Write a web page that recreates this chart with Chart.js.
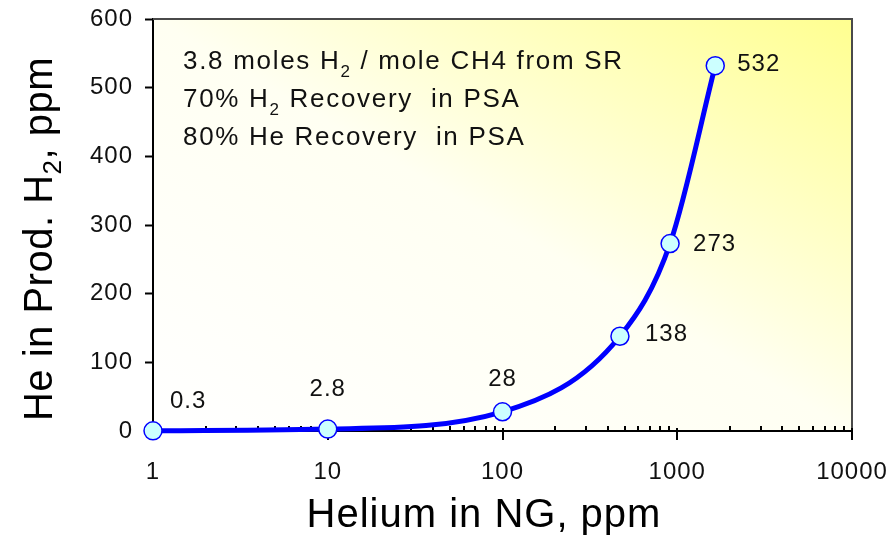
<!DOCTYPE html>
<html><head><meta charset="utf-8">
<script src="https://cdn.jsdelivr.net/npm/chart.js@4"></script>
<style>html,body{margin:0;padding:0;background:#fff}canvas{display:block}</style>
</head><body>
<canvas id="c" width="896" height="536"></canvas>
<script>
// ---- data ----
const heliumNG = [1, 10, 100, 470, 910, 1650];
const heInProduct = [0.3, 2.8, 28, 138, 273, 532];
const pointLabels = ['0.3', '2.8', '28', '138', '273', '532'];
const xTickValues = [1, 10, 100, 1000, 10000];
const yTickStep = 100;
const noteLines = [
  [{t: '3.8 moles H'}, {t: '2', sub: true}, {t: ' / mole CH4 from SR'}],
  [{t: '70% H'}, {t: '2', sub: true}, {t: ' Recovery  in PSA'}],
  [{t: '80% He Recovery  in PSA'}]
];
const xTitle = [{t: 'Helium in NG, ppm'}];
const yTitle = [{t: 'He in Prod. H'}, {t: '2', sub: true}, {t: ', ppm'}];

// ---- styles ----
const FONT = '"Liberation Sans", Arial, sans-serif';
const labelPlacement = [[17, -29, 'left'], [0, -40, 'center'], [0, -32, 'center'], [25, -2, 'left'], [23, 1, 'left'], [22, -1, 'left']];

function segWidth(ctx, segs, size, subSize) {
  let w = 0;
  segs.forEach(s => { ctx.font = (s.sub ? subSize : size) + 'px ' + FONT; w += ctx.measureText(s.t).width; });
  return w;
}
function drawSegs(ctx, segs, x, y, size, subSize, subDy) {
  segs.forEach(s => {
    ctx.font = (s.sub ? subSize : size) + 'px ' + FONT;
    ctx.fillText(s.t, x, s.sub ? y + subDy : y);
    x += ctx.measureText(s.t).width;
  });
}

const decor = {
  id: 'decor',
  beforeUpdate(chart) { chart.ctx.letterSpacing = '1px'; },
  beforeDraw(chart) {
    const {ctx, chartArea: a} = chart;
    ctx.letterSpacing = '1px';
    const w = a.right - a.left, h = a.bottom - a.top;
    const L = Math.hypot(w, h);
    const len = 2 * w * h / L;
    const g = ctx.createLinearGradient(a.left, a.bottom, a.left + h / L * len, a.bottom - w / L * len);
    g.addColorStop(0, '#ffffff');
    g.addColorStop(0.5, '#fffff2');
    g.addColorStop(1, '#ffff90');
    ctx.save();
    ctx.fillStyle = g;
    ctx.fillRect(a.left, a.top, w, h);
    ctx.restore();
  },
  beforeDatasetsDraw(chart) {
    const {ctx, chartArea: a, scales} = chart;
    const xs = scales.x;
    ctx.save();
    ctx.strokeStyle = '#4a4a4a';
    ctx.lineWidth = 2;
    ctx.beginPath();
    ctx.moveTo(a.left, a.top);
    ctx.lineTo(a.right, a.top);
    ctx.lineTo(a.right, a.bottom);
    ctx.stroke();
    ctx.strokeStyle = '#000';
    for (let e = 0; e <= 4; e++) {
      const base = Math.pow(10, e);
      const px = Math.round(xs.getPixelForValue(base));
      ctx.lineWidth = 2;
      ctx.beginPath(); ctx.moveTo(px, a.bottom - 3); ctx.lineTo(px, a.bottom + 9); ctx.stroke();
      if (e < 4) {
        for (let k = 2; k <= 9; k++) {
          const mx = Math.round(xs.getPixelForValue(k * base));
          ctx.beginPath(); ctx.moveTo(mx, a.bottom - 5); ctx.lineTo(mx, a.bottom); ctx.stroke();
        }
      }
    }
    ctx.restore();
  },
  afterDatasetsDraw(chart) {
    const {ctx, chartArea: a} = chart;
    const meta = chart.getDatasetMeta(0);
    ctx.save();
    ctx.fillStyle = '#111';
    ctx.letterSpacing = '1px';
    ctx.font = '24px ' + FONT;
    ctx.textBaseline = 'middle';
    meta.data.forEach((pt, i) => {
      const [dx, dy, al] = labelPlacement[i];
      ctx.textAlign = al;
      ctx.fillText(pointLabels[i], pt.x + dx, pt.y + dy);
    });
    // notes
    ctx.textAlign = 'left';
    ctx.textBaseline = 'alphabetic';
    ctx.letterSpacing = '1.7px';
    noteLines.forEach((line, i) => {
      drawSegs(ctx, line, a.left + 30, a.top + 50 + i * 38, 26, 17, 8);
    });
    // axis titles
    ctx.fillStyle = '#000';
    ctx.letterSpacing = '1px';
    const xw = segWidth(ctx, xTitle, 40, 26);
    drawSegs(ctx, xTitle, 484 - xw / 2, 527, 40, 26, 9);
    ctx.letterSpacing = '0.5px';
    const yw = segWidth(ctx, yTitle, 40, 26);
    ctx.translate(52, 239);
    ctx.rotate(-Math.PI / 2);
    drawSegs(ctx, yTitle, -yw / 2, 0, 40, 26, 9);
    ctx.restore();
  }
};

new Chart(document.getElementById('c'), {
  type: 'line',
  data: {
    datasets: [{
      data: heliumNG.map((x, i) => ({x, y: heInProduct[i]})),
      borderColor: '#0000ff',
      borderWidth: 5,
      cubicInterpolationMode: 'monotone',
      pointRadius: 9,
      pointHoverRadius: 9,
      pointBorderWidth: 1.5,
      pointBorderColor: '#0000ff',
      pointBackgroundColor: '#ccffff',
      clip: false
    }]
  },
  options: {
    responsive: false,
    animation: false,
    events: [],
    layout: {padding: {left: 0, right: 44, top: 19, bottom: 0}},
    plugins: {legend: {display: false}, tooltip: {enabled: false}},
    scales: {
      x: {
        type: 'logarithmic',
        min: 1, max: 10000,
        afterBuildTicks(s) { s.ticks = xTickValues.map(v => ({value: v})); },
        afterFit(s) { s.height = 105; s.paddingLeft = 0; s.paddingRight = 0; },
        grid: {display: false, drawTicks: false},
        border: {display: true, color: '#000', width: 2},
        ticks: {
          autoSkip: false, maxRotation: 0, padding: 27,
          color: '#111', font: {family: FONT, size: 24},
          callback: v => String(v)
        }
      },
      y: {
        min: 0, max: 600,
        afterFit(s) { s.width = 153; s.paddingTop = 0; s.paddingBottom = 0; },
        grid: {drawOnChartArea: false, drawTicks: true, tickLength: 8, tickColor: '#000', tickWidth: 2},
        border: {display: true, color: '#000', width: 2},
        ticks: {stepSize: yTickStep, padding: 12, color: '#111', font: {family: FONT, size: 24}}
      }
    }
  },
  plugins: [decor]
});
</script>
</body></html>
